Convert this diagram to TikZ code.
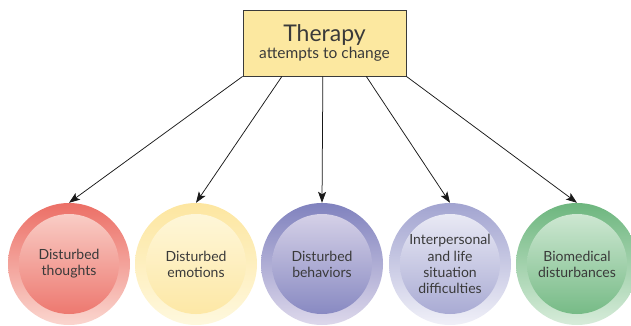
\documentclass[tikz,border=0pt]{standalone}
\usepackage{fontspec}
\setmainfont{Lato}
\usetikzlibrary{arrows.meta,calc}
\definecolor{ink}{HTML}{3A3A3A}
\definecolor{boxfill}{HTML}{FCE8A0}
\definecolor{reddark}{HTML}{EC6F66}
\definecolor{redlight}{HTML}{FAD6CF}
\definecolor{yellowdark}{HTML}{FDE6A0}
\definecolor{yellowlight}{HTML}{FEF8DE}
\definecolor{purpledark}{HTML}{8082BE}
\definecolor{purplelight}{HTML}{DDD8EB}
\definecolor{lavenderdark}{HTML}{A2A4D0}
\definecolor{lavenderlight}{HTML}{F0F0F8}
\definecolor{greendark}{HTML}{6DB67E}
\definecolor{greenlight}{HTML}{D7ECDA}

\begin{document}
\begin{tikzpicture}[x=1pt,y=1pt,text=ink,>={Stealth[length=11pt,width=8pt,inset=2.5pt]},
  font=\fontsize{14}{16.2}\selectfont,
  bubble/.style={circle,minimum size=122pt,inner sep=0pt,align=center,
    top color=#1dark,bottom color=#1light,
    path picture={\shade[top color=#1light,bottom color=#1dark]
      (path picture bounding box.center) circle[radius=50pt];}},
  link/.style={->,line width=.75pt,black!90}]
  \useasboundingbox (0,0) rectangle (631,325);

  \node[draw=ink,line width=.9pt,fill=boxfill,minimum width=163pt,
    minimum height=66pt,align=center] (therapy) at (324.5,282)
    {{\fontsize{23}{25}\selectfont Therapy}\\[0pt]
     {\fontsize{15.5}{18}\selectfont attempts to change}};

  % the five targets of change
  \node[bubble=red] (thoughts) at (69,61) {Disturbed\\thoughts};
  \node[bubble=yellow] (emotions) at (196,61) {Disturbed\\emotions};
  \node[bubble=purple] (behaviors) at (322,61) {Disturbed\\behaviors};
  \node[bubble=lavender] (relations) at (450,61)
    {Interpersonal\\and life\\situation\\difficulties};
  \node[bubble=green] (biomedical) at (577,61) {Biomedical\\disturbances};

  \foreach \f/\t in {0/thoughts,.24/emotions,.49/behaviors,.755/relations,1/biomedical}
    \draw[link] ($(therapy.south west)!\f!(therapy.south east)$) -- (\t.north);
\end{tikzpicture}
\end{document}
